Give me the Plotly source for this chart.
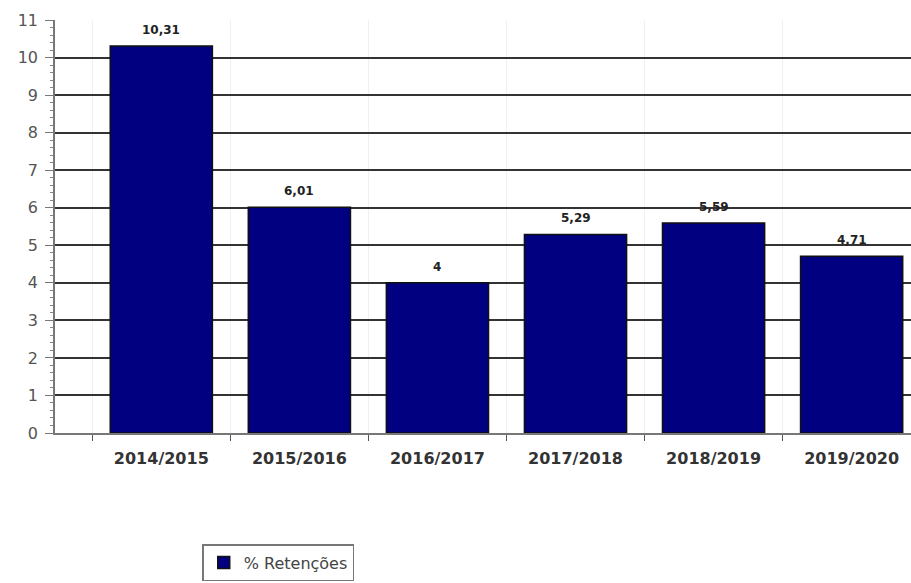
import plotly.graph_objects as go

categories = ["2014/2015", "2015/2016", "2016/2017", "2017/2018", "2018/2019", "2019/2020"]
values = [10.31, 6.01, 4.0, 5.29, 5.59, 4.71]
series_name = "% Retenções"
y_ticks = list(range(0, 12))


def fmt(v):
    s = f"{v:.2f}".replace(".", ",")
    if s.endswith(",00"):
        s = s[:-3]
    return s


labels = [fmt(v) for v in values]

fig = go.Figure()
fig.add_trace(go.Bar(
    x=categories, y=values, name=series_name,
    marker=dict(color="#000080", line=dict(color="#111", width=1.5)),
    width=0.74, showlegend=True,
))

for c, v, t in zip(categories, values, labels):
    fig.add_annotation(
        x=c, y=v, text=t, showarrow=False, yanchor="bottom", yshift=7,
        font=dict(family="DejaVu Sans", size=12, color="#222", weight="bold"),
    )

fig.update_layout(
    width=911, height=583,
    margin=dict(l=55, r=0, t=20, b=150),
    paper_bgcolor="white", plot_bgcolor="white",
    font=dict(family="DejaVu Sans", color="#333"),
    showlegend=True,
    legend=dict(
        x=0.172, y=-0.269, xanchor="left", yanchor="top",
        bordercolor="#777", borderwidth=1.5,
        font=dict(family="DejaVu Sans", size=16, color="#444"),
        itemwidth=30,
    ),
)
fig.update_xaxes(
    type="category", range=[-0.77, 5.43],
    tickson="boundaries", ticks="outside", ticklen=6, tickcolor="#555",
    showline=True, linecolor="#777", linewidth=1.5,
    showgrid=True, gridcolor="#f0f0f0", gridwidth=1,
    ticklabelstandoff=10,
    tickfont=dict(family="DejaVu Sans", size=16, color="#333", weight="bold"),
)
fig.update_yaxes(
    range=[0, 11], tickvals=y_ticks, ticks="outside", ticklen=8, tickcolor="#777",
    showline=True, linecolor="#777", linewidth=1.5,
    showgrid=True, gridcolor="#333", gridwidth=1.5,
    zeroline=False,
    ticklabelstandoff=4,
    tickfont=dict(family="DejaVu Sans", size=16, color="#555"),
    minor=dict(dtick=0.2, ticks="outside", ticklen=3, tickcolor="#888", showgrid=False),
)

fig.write_html("out.html")
